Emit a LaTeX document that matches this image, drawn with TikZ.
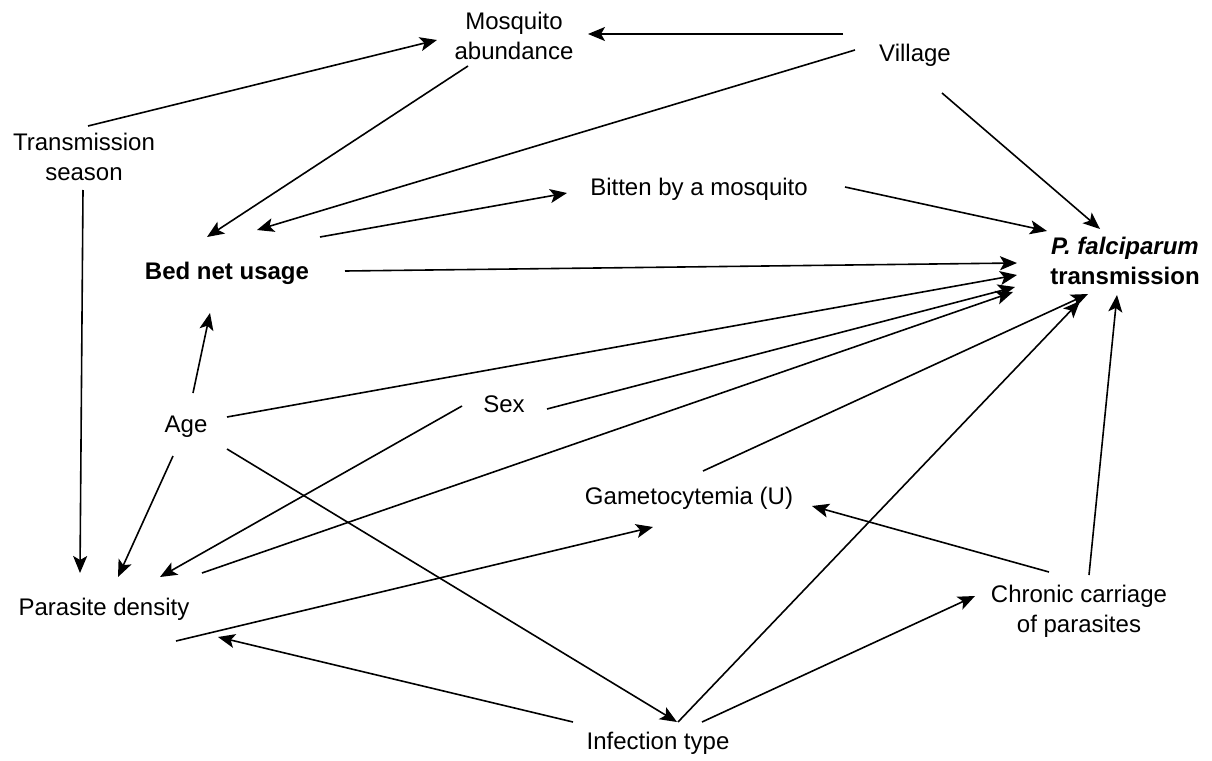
\documentclass[tikz,border=0pt]{standalone}
\usepackage{fontspec}
\setmainfont{Liberation Sans}
\usetikzlibrary{arrows.meta}

\begin{document}
\begin{tikzpicture}[x=1pt,y=-1pt,
  lbl/.style={inner sep=0pt, outer sep=0pt, text=black,
    font=\fontsize{24}{30}\selectfont, align=center},
  arr/.style={draw=black, line width=1.6pt,
    -{Stealth[length=17pt,width=14pt,inset=4pt]}}]

% canvas
\fill[white] (0,0) rectangle (1212,760);
\useasboundingbox (0,0) rectangle (1212,760);

% variables
\node[lbl, anchor=north] (mosq)   at (514,12)    {Mosquito\\abundance};
\node[lbl, anchor=base]  (vil)    at (915,62)    {Village};
\node[lbl, anchor=north] (trans)  at (84,133)    {Transmission\\season};
\node[lbl, anchor=base]  (bitten) at (699,195.5) {Bitten by a mosquito};
\node[lbl, anchor=base]  (bed)    at (227,279)   {\bfseries Bed net usage};
\node[lbl, anchor=north] (pf)     at (1125,237)  {\bfseries\itshape P. falciparum\\\bfseries transmission};
\node[lbl, anchor=base]  (age)    at (186,432)   {Age};
\node[lbl, anchor=base]  (sex)    at (504,412)   {Sex};
\node[lbl, anchor=base]  (gam)    at (689,504)   {Gametocytemia (U)};
\node[lbl, anchor=base]  (par)    at (104,615)   {Parasite density};
\node[lbl, anchor=north] (chr)    at (1079,585)  {Chronic carriage\\of parasites};
\node[lbl, anchor=base]  (inf)    at (658,749)   {Infection type};

% causal links
\draw[arr] ([shift={(-72,-28)}]vil.base)   -- ([shift={(74,22)}]mosq.north);
\draw[arr] ([shift={(-60,-12)}]vil.base)   -- ([shift={(30,-49)}]bed.base);
\draw[arr] ([shift={(27,31)}]vil.base)     -- ([shift={(-25,-8)}]pf.north);
\draw[arr] ([shift={(4,-7)}]trans.north)   -- ([shift={(-77,28)}]mosq.north);
\draw[arr] ([shift={(-1,57)}]trans.north)  -- ([shift={(-24,-42)}]par.base);
\draw[arr] ([shift={(-46,54)}]mosq.north)  -- ([shift={(-20,-42)}]bed.base);
\draw[arr] ([shift={(93,-42)}]bed.base)    -- ([shift={(-132,-2.5)}]bitten.base);
\draw[arr] ([shift={(146,-8.5)}]bitten.base) -- ([shift={(-78,-6)}]pf.north);
\draw[arr] ([shift={(118,-8)}]bed.base)    -- ([shift={(-108,26)}]pf.north);
\draw[arr] ([shift={(7,-39)}]age.base)     -- ([shift={(-17,34)}]bed.base);
\draw[arr] ([shift={(41,-15)}]age.base)    -- ([shift={(-108,38)}]pf.north);
\draw[arr] ([shift={(43,-3)}]sex.base)     -- ([shift={(-110,50)}]pf.north);
\draw[arr] ([shift={(98,-42)}]par.base)    -- ([shift={(-112,55)}]pf.north);
\draw[arr] ([shift={(-42,-6)}]sex.base)    -- ([shift={(56,-38)}]par.base);
\draw[arr] ([shift={(-13,24)}]age.base)    -- ([shift={(14,-38)}]par.base);
\draw[arr] ([shift={(41,17)}]age.base)     -- ([shift={(19,-27)}]inf.base);
\draw[arr] ([shift={(72,26)}]par.base)     -- ([shift={(-36,23)}]gam.base);
\draw[arr] ([shift={(14,-33)}]gam.base)    -- ([shift={(-37,57)}]pf.north);
\draw[arr] ([shift={(20,-27)}]inf.base)    -- ([shift={(-45,64)}]pf.north);
\draw[arr] ([shift={(10,-10)}]chr.north)   -- ([shift={(-8,58)}]pf.north);
\draw[arr] ([shift={(-30,-13)}]chr.north)  -- ([shift={(123,2)}]gam.base);
\draw[arr] ([shift={(44,-27)}]inf.base)    -- ([shift={(-104,11)}]chr.north);
\draw[arr] ([shift={(-85,-27)}]inf.base)   -- ([shift={(114,22)}]par.base);

\end{tikzpicture}
\end{document}
